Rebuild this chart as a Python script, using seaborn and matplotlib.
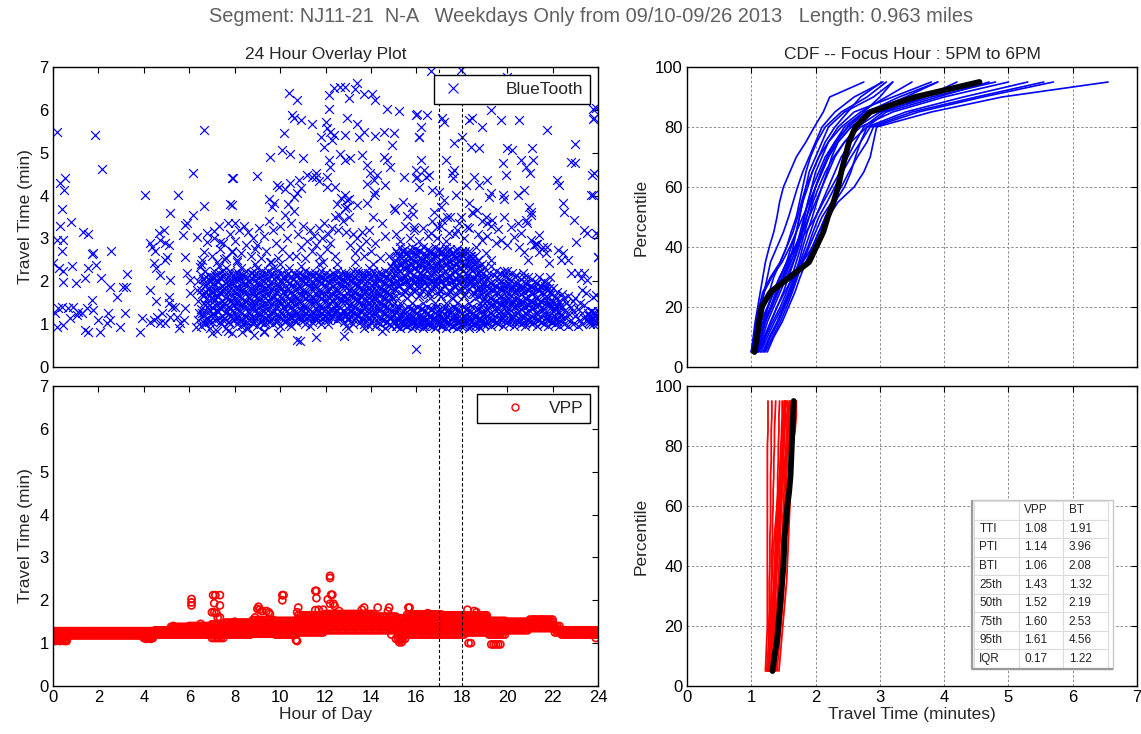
import numpy as np
import pandas as pd
import matplotlib
matplotlib.use("Agg")
import matplotlib.pyplot as plt
from matplotlib.lines import Line2D
import seaborn as sns

# ---------------- data ----------------
title_text = "Segment: NJ11-21  N-A   Weekdays Only from 09/10-09/26 2013   Length: 0.963 miles"

# BlueTooth dense core: (hour, travel times read at that hour)
bt_columns = [
 (6.4,[1.1,1.55,2.0]),(6.5,[0.95,1.35,1.8,2.15]),(6.6,[1.2,1.65,2.05]),(6.7,[1.0,1.45,1.9,2.25]),
 (6.8,[1.15,1.6,1.95]),(6.9,[0.9,1.3,1.75,2.1]),
 (7.0,[1.05,1.4,1.75,2.1]),(7.1,[1.2,1.55,1.9,2.25]),(7.2,[0.85,1.3,1.65,2.0]),(7.3,[1.15,1.5,1.85,2.2]),
 (7.4,[1.0,1.35,1.7,2.05]),(7.5,[1.1,1.45,1.8,2.15]),(7.6,[0.9,1.25,1.6,1.95,2.3]),(7.7,[1.05,1.4,1.75,2.1]),
 (7.8,[1.2,1.55,1.9,2.25]),(7.9,[0.8,1.3,1.65,2.0]),(8.0,[1.15,1.5,1.85,2.2]),(8.1,[1.0,1.35,1.7,2.05]),
 (8.2,[1.1,1.45,1.8,2.15]),(8.3,[0.95,1.25,1.6,1.95,2.3]),(8.4,[1.05,1.4,1.75,2.1]),(8.5,[1.2,1.55,1.9,2.25]),
 (8.6,[0.9,1.3,1.65,2.0]),(8.7,[1.15,1.5,1.85,2.2]),(8.8,[1.0,1.35,1.7,2.05]),(8.9,[1.1,1.45,1.8,2.15]),
 (9.0,[0.95,1.25,1.6,1.95,2.3]),(9.1,[1.05,1.4,1.75,2.1]),(9.2,[1.2,1.55,1.9,2.25]),(9.3,[1.0,1.3,1.65,2.0]),
 (9.4,[1.15,1.5,1.85,2.2]),(9.5,[1.05,1.35,1.7,2.05]),(9.6,[1.1,1.45,1.8,2.15]),(9.7,[1.0,1.25,1.6,1.95,2.3]),
 (9.8,[1.05,1.4,1.75,2.1]),(9.9,[1.2,1.55,1.9,2.25]),(10.0,[0.95,1.3,1.65,2.0]),(10.1,[1.15,1.5,1.85,2.2]),
 (10.2,[1.05,1.35,1.7,2.05]),(10.3,[1.1,1.45,1.8,2.15]),(10.4,[1.0,1.25,1.6,1.95,2.3]),(10.5,[1.15,1.4,1.75,2.1]),
 (10.6,[1.2,1.55,1.9,2.2]),(10.7,[1.05,1.3,1.65,2.0]),(10.8,[1.15,1.5,1.85,2.15]),(10.9,[1.1,1.35,1.7,2.05]),
 (11.0,[1.2,1.45,1.8,2.15]),(11.1,[1.0,1.25,1.6,1.95,2.25]),(11.2,[1.15,1.4,1.75,2.1]),(11.3,[1.2,1.55,1.9,2.2]),
 (11.4,[1.05,1.3,1.65,2.0]),(11.5,[1.15,1.5,1.85,2.15]),(11.6,[1.1,1.35,1.7,2.05]),(11.7,[1.2,1.45,1.8,2.15]),
 (11.8,[1.0,1.25,1.6,1.95,2.25]),(11.9,[1.15,1.4,1.75,2.1]),(12.0,[1.2,1.55,1.9,2.2]),(12.1,[1.1,1.3,1.65,2.0]),
 (12.2,[1.2,1.5,1.85,2.15]),(12.3,[1.15,1.35,1.7,2.05]),(12.4,[1.25,1.45,1.8,2.15]),(12.5,[1.1,1.3,1.6,1.95,2.25]),
 (12.6,[1.2,1.4,1.75,2.1]),(12.7,[1.15,1.55,1.9,2.2]),(12.8,[1.05,1.3,1.65,2.0]),(12.9,[1.2,1.5,1.85,2.15]),
 (13.0,[1.1,1.35,1.7,2.05]),(13.1,[1.2,1.45,1.8,2.15]),(13.2,[1.0,1.25,1.6,1.95,2.25]),(13.3,[1.15,1.4,1.75,2.1]),
 (13.4,[1.2,1.55,1.9,2.25]),(13.5,[1.05,1.3,1.65,2.0]),(13.6,[1.15,1.5,1.85,2.2]),(13.7,[1.0,1.35,1.7,2.05]),
 (13.8,[1.1,1.45,1.8,2.15]),(13.9,[0.95,1.25,1.6,1.95,2.3]),(14.0,[1.05,1.4,1.75,2.1]),(14.1,[1.2,1.55,1.9,2.25]),
 (14.2,[0.95,1.3,1.65,2.0]),(14.3,[1.15,1.5,1.85,2.2]),(14.4,[1.0,1.35,1.7,2.05]),(14.5,[1.1,1.45,1.8,2.15]),
 (14.6,[0.9,1.25,1.6,1.95,2.25]),(14.7,[1.05,1.4,1.75,2.1]),(14.8,[1.15,1.55,1.9,2.2]),(14.9,[0.95,1.3,1.65,2.0]),
 (15.0,[1.1,1.5,1.85,2.2,2.45]),
 (15.1,[0.95,1.25,1.65,2.0,2.35,2.7]),(15.2,[1.1,1.35,1.9,2.2,2.55]),(15.3,[0.9,1.2,1.5,2.05,2.4,2.8]),
 (15.4,[1.05,1.3,1.95,2.3,2.6]),(15.5,[1.0,1.25,1.75,2.1,2.45,2.75]),(15.6,[0.95,1.2,1.6,2.0,2.35,2.65]),
 (15.7,[1.1,1.35,1.9,2.25,2.55]),(15.8,[0.9,1.15,1.5,2.05,2.4,2.8]),(15.9,[1.05,1.3,1.95,2.3,2.6]),
 (16.0,[1.0,1.25,1.8,2.1,2.45,2.75]),(16.1,[0.95,1.2,1.65,2.0,2.35,2.7]),(16.2,[1.1,1.35,1.9,2.2,2.55]),
 (16.3,[0.9,1.2,1.5,2.05,2.4,2.8]),(16.4,[1.05,1.3,1.95,2.3,2.6]),(16.5,[1.0,1.25,1.75,2.1,2.45,2.75]),
 (16.6,[0.95,1.2,1.6,2.0,2.35,2.65]),(16.7,[1.1,1.35,1.9,2.25,2.55]),(16.8,[0.9,1.15,1.5,2.05,2.4,2.8]),
 (16.9,[1.05,1.3,1.95,2.3,2.6]),(17.0,[1.0,1.25,1.8,2.1,2.45,2.75]),(17.1,[0.95,1.2,1.65,2.0,2.35,2.7]),
 (17.2,[1.1,1.35,1.9,2.2,2.55]),(17.3,[0.9,1.2,1.5,2.05,2.4,2.8]),(17.4,[1.05,1.3,1.95,2.3,2.6]),
 (17.5,[1.0,1.25,1.75,2.1,2.45,2.75]),(17.6,[0.95,1.2,1.6,2.0,2.35,2.65]),(17.7,[1.1,1.35,1.9,2.25,2.55]),
 (17.8,[0.9,1.15,1.5,2.05,2.4,2.75]),(17.9,[1.05,1.3,1.95,2.3,2.6]),(18.0,[1.0,1.25,1.8,2.1,2.45,2.7]),
 (18.1,[0.95,1.2,1.65,2.0,2.35,2.65]),(18.2,[1.1,1.35,1.9,2.2,2.55]),(18.3,[0.9,1.2,1.5,2.05,2.4,2.7]),
 (18.4,[1.05,1.3,1.95,2.3,2.6]),(18.5,[1.0,1.25,1.75,2.1,2.45]),(18.6,[0.95,1.2,1.6,1.95,2.3,2.6]),
 (18.7,[1.1,1.35,1.85,2.2,2.5]),(18.8,[0.9,1.15,1.5,1.9,2.25]),(18.9,[1.05,1.3,1.7,2.05,2.4]),
 (19.0,[1.0,1.25,1.6,1.95,2.3]),
 (19.1,[1.0,1.35,1.7,2.05]),(19.2,[1.15,1.5,1.85,2.2]),(19.3,[0.95,1.25,1.6,1.95,2.35]),(19.4,[1.1,1.45,1.8,2.15]),
 (19.5,[1.05,1.3,1.55,1.9,2.25]),(19.6,[1.0,1.35,1.7,2.05]),(19.7,[1.15,1.5,1.85,2.2]),(19.8,[0.95,1.25,1.6,1.95]),
 (19.9,[1.1,1.45,1.8,2.15]),(20.0,[1.05,1.3,1.55,1.9,2.25]),(20.1,[1.0,1.35,1.7,2.05]),(20.2,[1.15,1.5,1.85,2.2]),
 (20.3,[0.95,1.25,1.6,1.95]),(20.4,[1.1,1.45,1.8,2.15]),(20.5,[1.05,1.3,1.55,1.9]),(20.6,[1.0,1.35,1.7,2.05]),
 (20.7,[1.15,1.5,1.85,2.2]),(20.8,[0.95,1.25,1.6,1.95]),(20.9,[1.1,1.45,1.8,2.1]),(21.0,[1.05,1.3,1.55,1.9]),
 (21.1,[1.0,1.35,1.7,2.05]),(21.2,[1.15,1.5,1.85]),(21.3,[0.95,1.25,1.6,1.95]),(21.4,[1.1,1.45,1.8,2.1]),
 (21.5,[1.05,1.3,1.55,1.9]),(21.6,[1.0,1.35,1.7,2.0]),(21.7,[1.15,1.5,1.85]),(21.8,[0.95,1.25,1.6,1.95]),
 (21.9,[1.1,1.45,1.75,2.1]),(22.0,[1.05,1.3,1.55,1.85]),(22.1,[1.0,1.35,1.65]),(22.2,[1.15,1.45,1.75]),
 (22.3,[0.95,1.25,1.55]),(22.4,[1.1,1.4,1.7]),(22.5,[1.0,1.3,1.6]),(22.6,[1.15,1.5]),(22.7,[0.95,1.25,1.65]),
 (22.8,[1.1,1.4]),(22.9,[1.0,1.3,1.55]),(23.0,[1.2,1.6]),(23.1,[0.95,1.35]),(23.2,[1.1,1.5]),(23.3,[1.0,1.25]),
 (23.4,[1.15,1.45]),(23.6,[1.05,1.2]),(23.7,[1.1,1.3]),(23.8,[1.0,1.15,1.25]),(23.9,[1.05,1.2]),(24.0,[1.1,1.3]),
]

# BlueTooth dense core, second pass (points between the columns above)
bt_columns_b = [
 (6.55,[1.25,1.7]),(6.65,[1.1,1.5,1.95]),(6.75,[1.3,1.75,2.1]),(6.85,[1.05,1.45,1.85]),(6.95,[1.2,1.6,2.0]),
 (7.05,[1.25,1.6,1.95]),(7.15,[1.1,1.45,1.8,2.15]),(7.25,[1.3,1.65,2.0]),(7.35,[1.05,1.4,1.75,2.1]),
 (7.45,[1.2,1.55,1.9,2.25]),(7.55,[1.15,1.5,1.85]),(7.65,[1.3,1.65,2.0]),(7.75,[1.05,1.4,1.8,2.15]),
 (7.85,[1.2,1.55,1.95]),(7.95,[1.1,1.45,1.75,2.1]),(8.05,[1.25,1.6,2.0]),(8.15,[1.15,1.5,1.85,2.2]),
 (8.25,[1.3,1.65,2.05]),(8.35,[1.1,1.45,1.8,2.15]),(8.45,[1.2,1.55,1.95]),(8.55,[1.05,1.4,1.75,2.1]),
 (8.65,[1.25,1.6,2.0]),(8.75,[1.1,1.45,1.8,2.2]),(8.85,[1.3,1.65,2.0]),(8.95,[1.15,1.5,1.85,2.2]),
 (9.05,[1.25,1.6,1.95]),(9.15,[1.1,1.45,1.8,2.15]),(9.25,[1.3,1.65,2.0]),(9.35,[1.05,1.4,1.75,2.1]),
 (9.45,[1.2,1.55,1.9,2.25]),(9.55,[1.25,1.6,1.95]),(9.65,[1.15,1.5,1.85,2.2]),(9.75,[1.3,1.65,2.05]),
 (9.85,[1.1,1.45,1.8,2.15]),(9.95,[1.2,1.55,1.9]),(10.05,[1.25,1.6,2.0]),(10.15,[1.1,1.4,1.75,2.1]),
 (10.25,[1.3,1.65,2.0]),(10.35,[1.15,1.5,1.85,2.2]),(10.45,[1.2,1.55,1.95]),(10.55,[1.3,1.65,2.05]),
 (10.65,[1.1,1.45,1.8,2.15]),(10.75,[1.25,1.6,1.95]),(10.85,[1.2,1.55,1.9,2.2]),(10.95,[1.3,1.65,2.0]),
 (11.05,[1.1,1.4,1.75,2.1]),(11.15,[1.25,1.6,1.95]),(11.25,[1.3,1.65,2.0]),(11.35,[1.15,1.5,1.85,2.15]),
 (11.45,[1.25,1.6,1.95]),(11.55,[1.2,1.55,1.9,2.2]),(11.65,[1.3,1.65,2.0]),(11.75,[1.1,1.4,1.75,2.1]),
 (11.85,[1.25,1.6,1.95]),(11.95,[1.3,1.65,2.05]),(12.05,[1.15,1.45,1.8,2.1]),(12.15,[1.25,1.6,1.95]),
 (12.25,[1.3,1.65,2.0]),(12.35,[1.2,1.55,1.9,2.2]),(12.45,[1.3,1.65,2.05]),(12.55,[1.15,1.45,1.8,2.1]),
 (12.65,[1.25,1.6,1.95]),(12.75,[1.3,1.65,2.05]),(12.85,[1.2,1.55,1.9,2.2]),(12.95,[1.25,1.6,1.95]),
 (13.05,[1.15,1.45,1.8,2.15]),(13.15,[1.3,1.65,2.0]),(13.25,[1.1,1.4,1.75,2.1]),(13.35,[1.25,1.6,1.95]),
 (13.45,[1.2,1.55,1.9,2.2]),(13.55,[1.3,1.65,2.05]),(13.65,[1.1,1.45,1.8,2.15]),(13.75,[1.25,1.6,1.95]),
 (13.85,[1.15,1.5,1.85,2.2]),(13.95,[1.3,1.65,2.05]),(14.05,[1.1,1.45,1.8,2.15]),(14.15,[1.25,1.6,1.95]),
 (14.25,[1.05,1.4,1.75,2.1]),(14.35,[1.3,1.65,2.0]),(14.45,[1.15,1.5,1.85,2.2]),(14.55,[1.25,1.6,1.95]),
 (14.65,[1.05,1.4,1.75,2.1]),(14.75,[1.2,1.55,1.9]),(14.85,[1.0,1.35,1.7,2.05]),(14.95,[1.2,1.6,1.95,2.3]),
 (15.05,[1.05,1.35,1.8,2.15,2.5]),(15.15,[0.95,1.15,2.0,2.3,2.65]),(15.25,[1.1,1.4,1.9,2.25,2.6]),
 (15.35,[1.0,1.2,1.7,2.05,2.4,2.7]),(15.45,[1.05,1.35,1.8,2.15,2.5]),(15.55,[0.95,1.15,2.0,2.3,2.65]),
 (15.65,[1.1,1.4,1.9,2.25,2.6]),(15.75,[1.0,1.2,1.7,2.05,2.4,2.7]),(15.85,[1.05,1.35,1.8,2.15,2.5]),
 (15.95,[0.95,1.15,2.0,2.3,2.65]),(16.05,[1.1,1.4,1.9,2.25,2.6]),(16.15,[1.0,1.2,1.7,2.05,2.4,2.7]),
 (16.25,[1.05,1.35,1.8,2.15,2.5]),(16.35,[0.95,1.15,2.0,2.3,2.65]),(16.45,[1.1,1.4,1.9,2.25,2.6]),
 (16.55,[1.0,1.2,1.7,2.05,2.4,2.7]),(16.65,[1.05,1.35,1.8,2.15,2.5]),(16.75,[0.95,1.15,2.0,2.3,2.65]),
 (16.85,[1.1,1.4,1.9,2.25,2.6]),(16.95,[1.0,1.2,1.7,2.05,2.4,2.7]),(17.05,[1.05,1.35,1.8,2.15,2.5]),
 (17.15,[0.95,1.15,2.0,2.3,2.65]),(17.25,[1.1,1.4,1.9,2.25,2.6]),(17.35,[1.0,1.2,1.7,2.05,2.4,2.7]),
 (17.45,[1.05,1.35,1.8,2.15,2.5]),(17.55,[0.95,1.15,2.0,2.3,2.65]),(17.65,[1.1,1.4,1.9,2.25,2.6]),
 (17.75,[1.0,1.2,1.7,2.05,2.4,2.7]),(17.85,[1.05,1.35,1.8,2.15,2.5]),(17.95,[0.95,1.15,2.0,2.3,2.65]),
 (18.05,[1.1,1.4,1.9,2.25,2.6]),(18.15,[1.0,1.2,1.7,2.05,2.4,2.7]),(18.25,[1.05,1.35,1.8,2.15,2.5]),
 (18.35,[0.95,1.15,2.0,2.3,2.6]),(18.45,[1.1,1.4,1.9,2.25,2.55]),(18.55,[1.0,1.2,1.7,2.05,2.4]),
 (18.65,[1.05,1.35,1.8,2.15,2.45]),(18.75,[0.95,1.15,1.65,2.0,2.35]),(18.85,[1.1,1.4,1.8,2.15]),
 (18.95,[1.0,1.2,1.55,1.9,2.2]),
 (19.05,[1.2,1.55,1.9]),(19.15,[1.05,1.4,1.75,2.1]),(19.25,[1.25,1.6,1.95]),(19.35,[1.1,1.45,1.8]),
 (19.45,[1.2,1.55,1.9]),(19.55,[1.05,1.4,1.75,2.1]),(19.65,[1.25,1.6,1.95]),(19.75,[1.1,1.45,1.8]),
 (19.85,[1.2,1.55,1.9,2.25]),(19.95,[1.05,1.4,1.75,2.1]),(20.05,[1.25,1.6,1.95]),(20.15,[1.1,1.45,1.8]),
 (20.25,[1.2,1.55,1.9]),(20.35,[1.05,1.4,1.75,2.1]),(20.45,[1.25,1.6,1.95]),(20.55,[1.1,1.45,1.8]),
 (20.65,[1.2,1.55,1.9]),(20.75,[1.05,1.4,1.75,2.1]),(20.85,[1.25,1.6,1.95]),(20.95,[1.1,1.45,1.8]),
 (21.05,[1.2,1.55,1.9]),(21.15,[1.05,1.4,1.75]),(21.25,[1.25,1.6,1.95]),(21.35,[1.1,1.45,1.8]),
 (21.45,[1.2,1.55,1.9]),(21.55,[1.05,1.4,1.75]),(21.65,[1.25,1.6,1.9]),(21.75,[1.1,1.45,1.8]),
 (21.85,[1.2,1.5,1.85]),(21.95,[1.05,1.4,1.7]),(22.05,[1.2,1.5]),(22.15,[1.1,1.4,1.6]),
 (22.25,[1.05,1.3]),(22.35,[1.2,1.45]),(23.55,[1.1,1.25]),(23.65,[1.0,1.2]),(23.75,[1.15,1.3]),(23.85,[1.1,1.25]),
 (23.95,[1.0,1.15]),
]

# BlueTooth scattered points (hour, minutes)
bt_sparse_hours = [
 0.19,1.85,2.15,6.63,6.16,7.88,4.06,5.49,6.66,7.78,0.31,0.53,0.49,0.38,0.31,0.78,1.34,1.56,0.16,0.43,
 0.38,0.01,0.43,0.28,0.82,0.43,1.01,1.41,1.71,1.77,1.56,1.9,2.54,2.1,2.49,3.28,2.81,3.1,3.22,
 0.09,0.24,0.38,0.16,0.46,0.68,0.9,1.04,1.26,1.49,1.71,1.78,1.41,1.56,2.07,2.0,2.44,2.51,2.96,3.18,2.37,0.75,1.12,
 3.84,3.91,4.25,4.54,
 4.28,4.35,4.5,4.72,4.87,4.94,5.01,5.13,4.43,4.54,4.72,4.94,5.16,4.65,
 5.16,5.82,5.9,5.82,6.16,5.72,6.34,6.78,7.07,6.78,7.34,6.66,7.51,7.88,8.03,
 4.43,4.57,4.79,4.94,5.09,5.24,5.38,5.46,5.6,5.75,5.82,5.53,4.28,4.72,5.16,5.09,
 5.9,6.04,6.34,6.04,6.41,6.31,6.63,6.49,6.56,
 7.0,7.1,7.2,7.3,7.35,7.5,7.6,7.7,7.8,7.9,8.0,8.1,8.2,8.3,8.4,8.5,8.6,8.7,8.8,8.9,
 9.0,9.05,9.15,9.3,9.4,9.5,9.55,9.7,9.8,9.9,10.0,10.1,10.2,10.3,10.4,10.5,10.2,10.35,10.45,10.6,
 10.7,10.8,10.9,11.0,11.1,11.2,11.3,11.4,11.5,11.6,11.7,11.75,11.85,11.95,12.05,12.1,12.2,12.3,12.4,
 12.4,12.5,12.6,12.7,12.75,12.85,12.95,13.05,12.55,12.9,
 13.1,13.2,13.3,13.4,13.5,13.6,13.7,13.8,13.9,14.0,14.2,14.4,14.6,14.8,14.5,14.1,
 15.1,15.3,15.5,15.7,15.9,16.1,16.3,16.5,16.7,16.9,17.1,17.3,17.5,17.7,17.9,18.1,18.3,18.5,18.7,18.9,19.1,19.3,19.5,
 15.97,16.48,16.19,16.12,17.15,17.22,18.32,18.47,17.66,18.02,18.39,18.76,18.91,19.28,19.72,20.53,21.77,20.01,20.23,21.1,
 22.98,23.8,23.76,16.19,16.34,16.56,16.41,17.29,17.59,17.66,18.18,18.54,19.13,19.28,19.8,19.94,20.6,20.83,21.02,21.12,
 20.46,20.75,20.97,21.05,19.8,19.86,22.19,22.29,22.44,22.51,22.8,22.98,23.74,23.67,16.04,16.12,16.7,17.0,16.78,17.07,
 17.22,17.63,17.73,18.32,18.69,19.05,19.2,18.76,22.95,23.02,23.39,23.53,23.91,23.98,22.22,22.36,22.44,21.77,21.84,
 21.33,21.19,21.41,20.89,21.05,23.39,23.25,23.46,23.31,23.76,16.0,16.64,17.96,20.0,
 19.13,19.35,19.58,19.87,20.16,20.46,20.6,20.83,21.05,21.27,21.41,21.56,21.7,19.72,20.01,20.31,20.53,20.75,20.9,
 18.91,18.62,19.05,19.28,22.66,22.8,23.1,23.53,16.63,16.92,17.15,17.37,17.44,17.81,17.95,18.25,18.47,
 15.85,15.8,15.9,
 10.38,10.75,10.53,10.6,10.9,10.16,9.54,10.09,10.45,11.0,7.93,8.98,7.88,9.87,9.94,10.82,10.9,9.5,9.65,9.72,
 11.2,11.56,11.71,12.07,12.07,12.44,10.6,10.75,11.41,11.78,12.0,12.07,12.19,12.37,12.29,11.93,12.15,12.22,
 12.15,12.37,12.66,12.88,13.4,13.32,13.69,14.05,14.2,13.03,12.15,12.95,13.4,13.69,12.88,13.47,14.2,14.72,15.23,
 14.57,15.01,14.94,16.04,16.12,12.66,13.1,12.88,13.61,13.83,13.98,14.27,14.13,13.83,14.57,14.72,14.86,14.2,14.13,
 15.45,15.97,15.97,14.64,13.83,13.4,11.56,11.41,15.01,15.08,15.42,15.6,12.88,13.03,12.95,
 8.84,9.28,10.75,11.56,12.8,8.32,10.86,
 23.91,23.83,23.82,23.8,24.0,24.0,23.9,
 6.5,7.3,7.7,8.1,8.5,8.9,9.3,9.6,10.0,10.5,10.9,11.3,11.7,12.1,12.5,12.9,13.3,13.7,14.1,14.5,14.9,7.0,9.9,13.0,11.9,
]
bt_sparse_times = [
 5.49,5.41,4.61,5.53,4.52,4.42,4.01,4.01,3.76,3.80,4.3,4.4,4.13,3.68,3.29,3.39,3.16,3.10,2.96,2.96,
 2.71,2.42,2.25,2.3,2.36,1.99,1.95,2.07,2.64,2.67,2.3,2.38,2.7,2.07,1.86,2.17,1.63,1.86,1.87,
 1.25,1.37,1.41,0.94,0.98,1.37,1.41,1.21,1.25,1.37,1.56,1.33,0.86,0.82,0.82,1.1,1.25,1.1,0.94,1.25,1.02,1.14,1.29,
 0.82,1.14,1.8,1.55,
 2.9,2.81,2.71,2.96,3.2,2.9,2.56,2.85,2.42,2.32,2.15,2.5,2.03,3.12,
 3.6,3.31,3.35,2.57,3.55,3.08,3.04,3.12,3.18,2.92,2.92,2.69,2.53,2.69,3.35,
 1.10,1.17,1.25,1.02,1.49,1.41,1.41,1.17,1.02,1.10,1.37,0.9,1.06,1.02,1.17,1.64,
 2.19,2.03,1.8,1.72,1.25,0.94,1.02,2.34,2.5,
 2.6,3.0,2.45,3.3,2.75,2.9,2.55,3.35,3.1,2.7,2.95,2.5,3.2,2.65,3.3,2.85,3.15,2.6,3.0,2.75,
 2.85,3.25,2.55,3.05,2.7,3.4,2.45,3.2,2.9,2.55,3.3,2.75,3.55,3.0,2.6,3.35,4.15,3.8,4.3,3.65,
 2.6,3.1,2.8,3.3,2.55,2.95,3.2,2.7,3.05,2.85,3.25,2.6,3.0,3.35,2.75,3.1,2.9,3.25,2.6,
 3.5,3.8,3.55,3.95,3.4,3.7,3.9,3.5,3.2,3.15,
 2.85,3.1,2.65,3.0,2.8,3.15,2.6,2.95,3.2,2.7,2.9,2.55,3.05,2.6,3.35,3.5,
 3.1,2.95,3.3,3.0,3.2,2.95,3.25,3.05,3.4,3.0,3.3,2.95,3.5,3.1,3.35,3.0,3.25,3.6,3.1,3.4,3.05,3.3,2.9,
 5.88,5.88,5.61,5.36,5.8,5.72,5.76,5.8,5.22,5.37,5.14,5.12,5.61,6.0,5.76,5.76,5.53,5.1,5.06,5.1,
 5.2,6.03,5.78,4.83,4.6,4.48,4.44,4.83,4.52,4.6,4.25,4.44,4.36,4.05,4.75,4.48,4.83,4.67,4.52,4.83,
 4.01,4.13,3.74,3.55,4.01,3.93,4.36,4.25,3.82,3.62,4.79,4.75,4.48,4.01,4.44,4.21,4.13,4.09,3.62,3.74,
 3.9,4.4,4.01,3.82,3.66,3.51,3.97,4.25,3.43,2.92,3.2,3.12,3.12,2.57,2.73,2.5,2.65,2.81,2.42,
 2.88,2.85,2.69,3.35,3.62,2.19,2.07,1.72,1.8,1.64,0.41,6.9,6.94,6.77,
 3.35,3.43,3.23,3.51,3.27,3.35,3.12,3.43,2.96,2.88,3.08,2.81,2.65,2.96,2.85,3.04,2.81,2.69,2.5,
 2.96,2.81,2.65,2.5,2.5,2.19,2.19,2.03,3.12,3.27,3.43,3.51,3.12,3.2,3.51,3.27,3.62,
 3.58,3.74,3.27,
 6.4,6.24,5.88,5.82,5.76,5.45,4.89,5.06,4.98,4.87,4.42,4.46,3.78,4.25,4.21,4.36,4.17,3.93,3.74,3.82,
 4.48,4.44,4.35,4.44,4.21,4.21,3.97,4.05,5.68,5.37,5.72,5.57,5.49,5.41,5.3,5.14,4.83,4.67,
 6.34,6.5,6.54,6.54,6.62,6.48,6.38,6.38,6.24,6.27,6.03,5.8,5.68,5.49,5.41,5.37,5.39,6.01,5.98,
 5.49,5.47,5.18,5.9,5.37,4.98,4.87,4.83,4.95,4.71,4.52,4.48,4.36,4.28,4.91,4.83,4.67,4.09,4.01,
 4.44,4.6,4.4,4.25,3.82,3.78,4.52,4.44,3.7,3.66,3.86,3.52,4.01,3.93,3.74,
 0.75,0.82,0.63,0.71,0.72,0.82,0.61,
 6.04,5.8,4.52,4.01,3.08,2.57,1.68,
 2.4,2.35,0.85,2.45,0.9,2.4,0.85,2.45,2.4,0.95,2.35,0.95,2.4,1.0,2.4,0.95,2.45,0.9,2.4,0.85,2.35,0.8,0.8,0.9,2.45,
]

# VPP dense band: blocks of hours sharing the read band of travel times
vpp_blocks = [
 ([0.0,0.1,0.2,0.3,0.4,0.5,0.6], [1.08,1.15,1.22,1.28]),
 ([0.7,0.8,0.9,1.0,1.1,1.2,1.3,1.4,1.5,1.6,1.7,1.8,1.9,2.0,2.1,2.2,2.3,2.4,2.5,2.6,2.7,2.8,2.9,3.0,
   3.1,3.2,3.3,3.4,3.5,3.6,3.7,3.8,3.9], [1.18,1.23,1.28]),
 ([4.0,4.1,4.2,4.3,4.4], [1.12,1.18,1.23,1.28]),
 ([4.5,4.6,4.7,4.8,4.9,5.0,5.1], [1.2,1.25,1.3]),
 ([5.2,5.3,5.4,5.5,5.6,5.7,5.8,5.9], [1.2,1.26,1.32,1.38]),
 ([6.0,6.1,6.2,6.3,6.4,6.5,6.6,6.7,6.8,6.9], [1.2,1.27,1.34,1.4]),
 ([7.0,7.1,7.2,7.3,7.4,7.5], [1.12,1.2,1.28,1.36,1.44]),
 ([7.6,7.7,7.8,7.9,8.0,8.1,8.2,8.3,8.4,8.5,8.6,8.7], [1.2,1.27,1.34,1.42,1.48]),
 ([8.8,8.9,9.0,9.1,9.2,9.3,9.4,9.5,9.6,9.7], [1.22,1.3,1.38,1.46,1.54]),
 ([9.8,9.9,10.0,10.1,10.2,10.3,10.4,10.5,10.6,10.7], [1.2,1.28,1.36,1.44,1.52]),
 ([10.8,10.9,11.0,11.1,11.2,11.3,11.4,11.5,11.6,11.7,11.8,11.9], [1.25,1.33,1.41,1.49,1.57,1.65]),
 ([12.0,12.1,12.2,12.3,12.4,12.5,12.6,12.7,12.8,12.9,13.0,13.1,13.2,13.3,13.4,13.5,13.6,13.7,13.8,13.9,14.0,14.1],
  [1.3,1.38,1.46,1.54,1.62,1.68]),
 ([14.2,14.3,14.4,14.5,14.6,14.7,14.8,14.9,15.0,15.1], [1.3,1.38,1.46,1.54,1.62]),
 ([15.2,15.3,15.4,15.5], [1.1,1.18,1.26,1.34,1.42,1.5,1.58]),
 ([15.6,15.7,15.8,15.9,16.0,16.1,16.2,16.3,16.4,16.5,16.6,16.7,16.8,16.9,17.0,17.1],
  [1.2,1.28,1.36,1.44,1.52,1.6,1.67]),
 ([17.2,17.3,17.4,17.5,17.6,17.7,17.8,17.9,18.0,18.1], [1.2,1.28,1.36,1.44,1.52,1.6,1.65]),
 ([18.2,18.3,18.4,18.5,18.6,18.7,18.8,18.9,19.0,19.1], [1.25,1.33,1.41,1.49,1.57,1.65]),
 ([19.2,19.3,19.4,19.5,19.6,19.7,19.8,19.9], [1.2,1.28,1.36,1.44,1.52]),
 ([20.0,20.1,20.2,20.3,20.4,20.5,20.6,20.7,20.8,20.9], [1.3,1.37,1.44,1.5]),
 ([21.0,21.1,21.2,21.3,21.4,21.5,21.6,21.7,21.8,21.9,22.0], [1.35,1.42,1.49,1.55]),
 ([22.1,22.2,22.3], [1.25,1.32,1.4]),
 ([22.4,22.5,22.6,22.7,22.8,22.9,23.0,23.1,23.2,23.3,23.4,23.5,23.6,23.7,23.8,23.9,24.0], [1.2,1.25,1.3]),
]
vpp_out_hours = [6.1,6.1,6.1,7.05,7.15,7.1,7.35,7.35,7.0,7.1,7.2,7.25,7.35,9.0,9.05,9.1,9.2,9.4,9.5,9.55,
 10.1,10.15,10.1,10.7,10.75,10.8,10.75,11.55,11.6,11.6,11.55,11.7,11.9,12.2,12.2,12.25,12.3,12.1,12.2,12.35,
 12.4,12.6,13.7,13.6,14.3,14.8,14.75,15.25,15.35,15.3,15.65,15.7,18.25,18.3,18.4,18.55,18.65,19.3,19.4,19.5,
 19.6,19.7,23.9,0.3,0.5,0.6,4.1,4.3,15.1,14.9,0.1,5.3,6.5,8.0,8.9,11.0,16.5,19.1,21.2,21.5]
vpp_out_times = [2.03,1.95,1.88,2.12,2.12,1.93,2.12,1.88,1.72,1.72,1.7,1.6,1.6,1.8,1.85,1.78,1.75,1.75,1.72,1.68,
 2.12,2.12,2.0,1.07,1.05,1.83,1.72,2.22,2.22,2.05,1.77,1.78,1.78,2.57,2.52,2.13,2.13,2.02,1.92,1.92,
 1.87,1.75,1.83,1.78,1.83,1.83,1.75,1.02,1.02,1.07,1.83,1.83,1.78,1.0,1.0,1.75,1.72,0.97,0.97,0.97,
 0.97,0.97,1.12,1.05,1.05,1.05,1.1,1.1,1.1,1.2,1.05,1.4,1.45,1.5,1.6,1.62,1.7,1.6,1.55,1.55]

# CDF curves (percentile 5..95)
percentiles = [5,10,15,20,25,30,35,40,45,50,55,60,65,70,75,80,85,90,95]
bt_curves = [
 [1.0,1.03,1.06,1.1,1.14,1.18,1.22,1.28,1.35,1.4,1.44,1.5,1.6,1.7,1.85,1.98,2.12,2.22,2.75],
 [1.0,1.05,1.1,1.16,1.2,1.25,1.3,1.4,1.5,1.58,1.65,1.72,1.8,1.9,2.0,2.1,2.3,2.6,3.05],
 [1.02,1.08,1.15,1.2,1.28,1.35,1.45,1.55,1.62,1.7,1.75,1.8,1.85,1.92,2.02,2.15,2.4,2.8,3.1],
 [1.05,1.1,1.15,1.25,1.35,1.45,1.55,1.62,1.7,1.75,1.8,1.85,1.9,2.0,2.1,2.2,2.45,2.9,3.2],
 [1.05,1.12,1.2,1.3,1.4,1.5,1.6,1.65,1.7,1.75,1.8,1.88,1.95,2.05,2.2,2.4,2.7,3.1,3.5],
 [1.08,1.15,1.22,1.32,1.42,1.52,1.62,1.7,1.76,1.82,1.88,1.94,2.0,2.1,2.2,2.35,2.6,3.2,3.8],
 [1.1,1.18,1.25,1.35,1.45,1.55,1.65,1.72,1.78,1.83,1.88,1.95,2.05,2.15,2.3,2.5,2.8,3.3,3.9],
 [1.1,1.2,1.3,1.4,1.5,1.58,1.66,1.74,1.8,1.86,1.92,2.0,2.1,2.2,2.35,2.55,2.9,3.6,4.5],
 [1.12,1.22,1.33,1.45,1.55,1.63,1.7,1.77,1.83,1.9,1.96,2.05,2.15,2.28,2.45,2.65,3.0,3.8,4.8],
 [1.15,1.25,1.36,1.48,1.58,1.66,1.74,1.8,1.87,1.95,2.02,2.1,2.2,2.3,2.45,2.7,3.2,4.0,5.0],
 [1.18,1.28,1.4,1.5,1.6,1.68,1.76,1.84,1.92,2.0,2.1,2.2,2.3,2.4,2.55,2.8,3.4,4.3,5.3],
 [1.2,1.3,1.42,1.52,1.62,1.7,1.78,1.88,1.96,2.05,2.18,2.3,2.42,2.55,2.7,2.85,3.5,4.5,5.55],
 [1.22,1.33,1.45,1.55,1.64,1.72,1.8,1.9,2.0,2.1,2.25,2.4,2.52,2.65,2.8,2.9,3.6,4.6,5.7],
 [1.25,1.35,1.48,1.58,1.68,1.76,1.85,1.95,2.05,2.2,2.35,2.6,2.75,2.85,2.9,2.95,3.8,4.9,6.55],
 [1.0,1.04,1.08,1.12,1.18,1.3,1.45,1.55,1.65,1.72,1.78,1.85,1.95,2.05,2.15,2.3,2.5,2.7,3.03],
 [1.02,1.06,1.1,1.14,1.2,1.32,1.48,1.6,1.7,1.8,1.9,2.0,2.1,2.2,2.32,2.5,2.75,3.0,3.2],
 [1.05,1.1,1.18,1.26,1.35,1.45,1.55,1.68,1.8,1.9,2.0,2.1,2.18,2.25,2.35,2.55,2.85,3.4,3.9],
 [1.1,1.16,1.22,1.3,1.38,1.48,1.58,1.68,1.78,1.86,1.94,2.0,2.08,2.18,2.3,2.45,2.75,3.6,4.55],
 [1.15,1.22,1.3,1.4,1.52,1.65,1.8,1.95,2.05,2.15,2.3,2.45,2.55,2.62,2.7,2.8,3.1,3.9,4.7],
 [1.08,1.14,1.2,1.26,1.34,1.44,1.56,1.7,1.85,2.0,2.12,2.25,2.38,2.5,2.62,2.75,3.05,3.7,4.2],
]
bt_avg_curve = [1.05,1.09,1.12,1.16,1.30,1.60,1.90,2.01,2.12,2.19,2.28,2.35,2.40,2.46,2.52,2.62,2.85,3.55,4.55]

vpp_curves = [
 [1.22,1.23,1.24,1.25,1.25,1.25,1.25,1.25,1.25,1.25,1.25,1.25,1.25,1.25,1.25,1.25,1.26,1.26,1.26],
 [1.25,1.26,1.27,1.27,1.28,1.28,1.28,1.29,1.29,1.29,1.3,1.3,1.3,1.3,1.31,1.31,1.31,1.32,1.32],
 [1.27,1.28,1.29,1.3,1.3,1.31,1.31,1.32,1.32,1.33,1.33,1.34,1.34,1.35,1.35,1.36,1.36,1.37,1.38],
 [1.28,1.3,1.31,1.32,1.33,1.34,1.35,1.36,1.37,1.38,1.39,1.4,1.41,1.41,1.42,1.42,1.43,1.43,1.44],
 [1.3,1.32,1.34,1.35,1.36,1.37,1.38,1.39,1.4,1.41,1.42,1.43,1.44,1.45,1.46,1.47,1.47,1.48,1.48],
 [1.32,1.34,1.36,1.38,1.4,1.41,1.42,1.43,1.44,1.45,1.46,1.47,1.48,1.49,1.5,1.51,1.52,1.53,1.53],
 [1.35,1.37,1.39,1.41,1.43,1.44,1.45,1.46,1.47,1.48,1.49,1.5,1.51,1.52,1.53,1.54,1.55,1.56,1.57],
 [1.38,1.4,1.42,1.44,1.46,1.47,1.48,1.49,1.5,1.51,1.52,1.53,1.54,1.55,1.56,1.58,1.6,1.62,1.63],
 [1.4,1.42,1.44,1.46,1.48,1.5,1.51,1.52,1.53,1.54,1.55,1.56,1.58,1.6,1.62,1.64,1.66,1.68,1.7],
 [1.43,1.45,1.47,1.49,1.51,1.53,1.55,1.56,1.57,1.58,1.59,1.6,1.61,1.62,1.63,1.64,1.68,1.7,1.7],
 [1.26,1.27,1.28,1.3,1.32,1.34,1.36,1.38,1.4,1.42,1.44,1.46,1.48,1.5,1.52,1.55,1.58,1.6,1.62],
 [1.24,1.26,1.28,1.29,1.3,1.31,1.32,1.33,1.34,1.36,1.38,1.4,1.42,1.44,1.46,1.48,1.5,1.52,1.55],
 [1.29,1.31,1.33,1.35,1.37,1.38,1.39,1.4,1.41,1.42,1.43,1.44,1.45,1.46,1.47,1.49,1.51,1.55,1.6],
 [1.26,1.28,1.3,1.32,1.34,1.36,1.38,1.4,1.42,1.44,1.45,1.46,1.47,1.48,1.49,1.5,1.5,1.51,1.51],
 [1.31,1.33,1.35,1.37,1.39,1.41,1.43,1.45,1.47,1.49,1.51,1.52,1.53,1.54,1.55,1.56,1.57,1.58,1.6],
 [1.27,1.29,1.31,1.33,1.35,1.36,1.37,1.38,1.39,1.4,1.41,1.42,1.43,1.44,1.45,1.46,1.48,1.5,1.52],
]
vpp_avg_curve = [1.33,1.36,1.40,1.42,1.44,1.46,1.48,1.50,1.51,1.52,1.54,1.56,1.59,1.61,1.62,1.63,1.64,1.65,1.66]

table_rows = ["TTI","PTI","BTI","25th","50th","75th","95th","IQR"]
table_vpp = ["1.08","1.14","1.06","1.43","1.52","1.60","1.61","0.17"]
table_bt = ["1.91","3.96","2.08","1.32","2.19","2.53","4.56","1.22"]

focus_start, focus_end = 17, 18

# ---------------- build frames ----------------
bt_h, bt_t = [], []
for cols in (bt_columns, bt_columns_b):
    for h, vals in cols:
        for v in vals:
            bt_h.append(h); bt_t.append(v)
bt_h += bt_sparse_hours; bt_t += bt_sparse_times
bt_df = pd.DataFrame({"hour": bt_h, "time": bt_t})

vp_h, vp_t = [], []
for hours, vals in vpp_blocks:
    for h in hours:
        for v in vals:
            vp_h.append(h); vp_t.append(v)
vp_h += vpp_out_hours; vp_t += vpp_out_times
vpp_df = pd.DataFrame({"hour": vp_h, "time": vp_t})

def curves_df(curves):
    rows = []
    for i, c in enumerate(curves):
        for p, v in zip(percentiles, c):
            rows.append((i, p, v))
    return pd.DataFrame(rows, columns=["curve", "pct", "time"])

bt_cdf = curves_df(bt_curves)
vpp_cdf = curves_df(vpp_curves)
bt_avg = pd.DataFrame({"pct": percentiles, "time": bt_avg_curve})
vpp_avg = pd.DataFrame({"pct": percentiles, "time": vpp_avg_curve})

# ---------------- plotting ----------------
sns.set_theme(style="white")
plt.rcParams["font.family"] = ["Liberation Sans", "DejaVu Sans"]

W, H = 1141, 734
fig = plt.figure(figsize=(W/100, H/100), dpi=100)

def px_axes(x0, y0, x1, y1):
    return fig.add_axes([x0/W, 1 - y1/H, (x1-x0)/W, (y1-y0)/H])

ax1 = px_axes(53, 67, 598, 367)
ax2 = px_axes(53, 386, 598, 686)
ax3 = px_axes(687, 67, 1137, 367)
ax4 = px_axes(687, 386, 1137, 686)

def style(ax):
    for s in ax.spines.values():
        s.set_color("black"); s.set_linewidth(1.0); s.set_visible(True)
    ax.tick_params(direction="in", length=4, width=0.8, top=True, right=True,
                   labelsize=12, colors="black", pad=3)

sns.scatterplot(data=bt_df, x="hour", y="time", marker="x", color="#0000ff",
                s=40, linewidth=0.85, ax=ax1, label="BlueTooth", legend=False)
sns.scatterplot(data=vpp_df, x="hour", y="time", marker="o", facecolor="none",
                edgecolor="#ff0000", s=26, linewidth=1.2, ax=ax2, label="VPP", legend=False)

for ax in (ax1, ax2):
    ax.set_xlim(0, 24); ax.set_ylim(0, 7)
    ax.set_xticks(range(0, 25, 2)); ax.set_yticks(range(0, 8))
    ax.axvline(focus_start, color="black", lw=0.8, ls=(0, (3, 2)))
    ax.axvline(focus_end, color="black", lw=0.8, ls=(0, (3, 2)))
    ax.set_ylabel("Travel Time (min)", fontsize=12.5, labelpad=5)
    style(ax)
ax1.set_xticklabels([]); ax1.set_xlabel("")
ax2.set_xlabel("Hour of Day", fontsize=12.5, labelpad=1)

h_bt = Line2D([], [], ls="none", marker="x", color="#0000ff", markersize=7, mew=0.8)
h_vp = Line2D([], [], ls="none", marker="o", mfc="none", mec="#ff0000", markersize=5, mew=1.0)
leg_opts = {"BlueTooth": dict(handlelength=1.4, handletextpad=2.35),
            "VPP": dict(handlelength=3.6, handletextpad=0.15)}
for ax, hnd, lab in ((ax1, h_bt, "BlueTooth"), (ax2, h_vp, "VPP")):
    leg = ax.legend([hnd], [lab], loc="upper right", fancybox=False, framealpha=1,
                    edgecolor="black", fontsize=12.5, borderpad=0.4, borderaxespad=0.45,
                    **leg_opts[lab])
    leg.get_frame().set_linewidth(1.0)

sns.lineplot(data=bt_cdf, x="time", y="pct", units="curve", estimator=None, sort=False,
             color="#0000ff", lw=1.2, ax=ax3)
sns.lineplot(data=bt_avg, x="time", y="pct", sort=False, color="black", lw=4.2, ax=ax3)
sns.lineplot(data=vpp_cdf, x="time", y="pct", units="curve", estimator=None, sort=False,
             color="#ff0000", lw=1.3, ax=ax4)
sns.lineplot(data=vpp_avg, x="time", y="pct", sort=False, color="black", lw=4.2, ax=ax4)

for ax in (ax3, ax4):
    ax.set_xlim(0, 7); ax.set_ylim(0, 100)
    ax.set_xticks(range(0, 8)); ax.set_yticks(range(0, 101, 20))
    ax.grid(True, color="#8c8c8c", lw=0.7, ls=(0, (2.5, 2)))
    ax.set_axisbelow(True)
    ax.set_ylabel("Percentile", fontsize=12.5, labelpad=5)
    style(ax)
ax3.set_xticklabels([]); ax3.set_xlabel("")
ax4.set_xlabel("Travel Time (minutes)", fontsize=12.5, labelpad=1)

ax1.set_title("24 Hour Overlay Plot", fontsize=12.5, pad=6)
ax3.set_title("CDF -- Focus Hour : 5PM to 6PM", fontsize=12.5, pad=6)
fig.text(591/W, 1 - 17/H, title_text, ha="center", va="center", fontsize=14.4, color="#606060")

# statistics table
cell_text = [["", "VPP", "BT"]] + [[r, a, b] for r, a, b in zip(table_rows, table_vpp, table_bt)]
tx0, tx1, ty0, ty1 = 974, 1108, 501, 668
bbox = [(tx0-687)/450, (686-ty1)/300, (tx1-tx0)/450, (ty1-ty0)/300]
tab = ax4.table(cellText=cell_text, cellLoc="left", bbox=bbox, zorder=5)
tab.auto_set_font_size(False)
for (r, c), cell in tab.get_celld().items():
    cell.set_edgecolor("#dcdcdc"); cell.set_linewidth(0.8)
    cell.set_facecolor("white")
    cell.get_text().set_fontsize(8.5)
    cell.get_text().set_color("#222222")
    cell.PAD = 0.12
fx0, fx1 = (tx0-2-687)/450, (tx1+5-687)/450
fy0, fy1 = (686-ty1-1)/300, (686-ty0+1)/300
ax4.add_patch(plt.Rectangle((fx0, fy0), fx1-fx0, fy1-fy0, transform=ax4.transAxes,
                            facecolor="white", edgecolor="#c8c8c8", lw=1.0, zorder=4))
ax4.plot([fx0, fx0, fx1], [fy1, fy0, fy0], transform=ax4.transAxes, color="#9a9a9a",
         lw=1.6, zorder=6, solid_capstyle="butt")

fig.savefig("out.png", dpi=100, facecolor="white")
